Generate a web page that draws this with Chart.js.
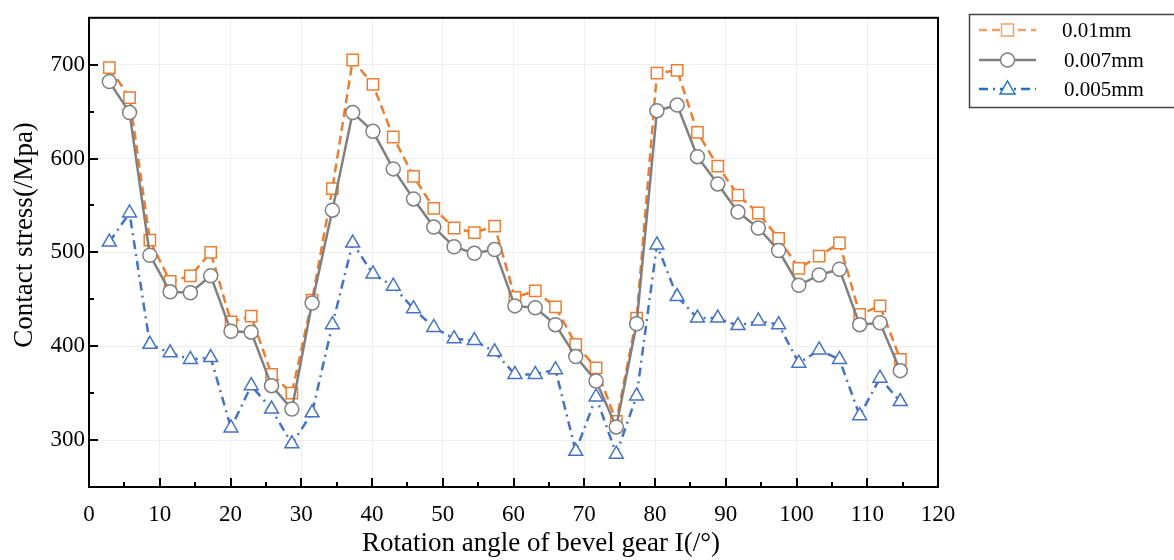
<!DOCTYPE html>
<html>
<head>
<meta charset="utf-8">
<script src="https://cdn.jsdelivr.net/npm/chart.js@4.4.0/dist/chart.umd.min.js"></script>
<style>
    html, body { margin: 0; padding: 0; background: #fff; }
    #caixa { width: 1174px; height: 560px; }
</style>
</head>
<body>
<div id="caixa"><canvas id="graficoTensao" width="1174" height="560"></canvas></div>
<script>

const angulos = [2.87, 5.73, 8.6, 11.47, 14.33, 17.2, 20.07, 22.93, 25.8, 28.67,
    31.53, 34.4, 37.27, 40.13, 43.0, 45.87, 48.73, 51.6, 54.47, 57.33,
    60.2, 63.07, 65.93, 68.8, 71.67, 74.53, 77.4, 80.27, 83.13, 86.0,
    88.87, 91.73, 94.6, 97.47, 100.33, 103.2, 106.07, 108.93, 111.8, 114.67];

const tensao001 = [697, 665, 513, 469, 475, 500, 426, 432, 370, 350,
    449, 568, 705, 679, 623, 581, 547, 526, 521, 528,
    452, 459, 442, 402, 377, 320, 430, 691, 694, 628,
    592, 561, 542, 515, 483, 496, 510, 434, 443, 386];

const tensao0007 = [682, 649, 497, 458, 457, 475, 416, 415, 358, 333,
    446, 545, 649, 629, 589, 557, 527, 506, 499, 503,
    443, 441, 423, 389, 363, 314, 424, 651, 657, 602,
    573, 543, 526, 502, 465, 476, 482, 423, 425, 374];

const tensao0005 = [511, 542, 402, 393, 386, 388, 313, 358, 333, 296,
    329, 423, 510, 477, 464, 440, 420, 408, 406, 394,
    370, 370, 375, 288, 346, 285, 347, 508, 453, 430,
    430, 422, 427, 423, 382, 396, 386, 326, 366, 341];

const rotulosSeries = ['0.01mm', '0.007mm', '0.005mm'];

const ticksX = [0, 10, 20, 30, 40, 50, 60, 70, 80, 90, 100, 110, 120];
const ticksXMenores = [5, 15, 25, 35, 45, 55, 65, 75, 85, 95, 105, 115];
const ticksY = [300, 400, 500, 600, 700];
const ticksYMenores = [350, 450, 550, 650];

const tituloX = 'Rotation angle of bevel gear I(/\u00B0)';
const tituloY = 'Contact stress(/Mpa)';

const corLaranja = '#ed7d31';
const corCinza = '#808080';
const corAzul = '#4472c4';
const fonteSerif = '"Liberation Serif", "Times New Roman", serif';

let graficoTensao;

document.addEventListener('DOMContentLoaded', function() {
    carregarGrafico();
});


function montarPontos(valores) {
    return valores.map((v, i) => ({ x: angulos[i], y: v }));
}


const pluginMoldura = {
    id: 'moldura',
    afterDatasetsDraw(chart) {
        const ctx = chart.ctx;
        const a = chart.chartArea;
        const sx = chart.scales.x;
        const sy = chart.scales.y;
        ctx.save();
        ctx.strokeStyle = '#000';
        ctx.lineWidth = 2;
        ctx.beginPath();
        ticksX.forEach(v => {
            const px = Math.round(sx.getPixelForValue(v));
            ctx.moveTo(px, a.bottom);
            ctx.lineTo(px, a.bottom - 9);
        });
        ticksXMenores.forEach(v => {
            const px = Math.round(sx.getPixelForValue(v));
            ctx.moveTo(px, a.bottom);
            ctx.lineTo(px, a.bottom - 5);
        });
        ticksY.forEach(v => {
            const py = Math.round(sy.getPixelForValue(v));
            ctx.moveTo(a.left, py);
            ctx.lineTo(a.left + 9, py);
        });
        ticksYMenores.forEach(v => {
            const py = Math.round(sy.getPixelForValue(v));
            ctx.moveTo(a.left, py);
            ctx.lineTo(a.left + 5, py);
        });
        ctx.stroke();
        ctx.strokeRect(a.left, a.top, a.right - a.left, a.bottom - a.top);
        ctx.restore();
    },
    afterDraw(chart) {
        const ctx = chart.ctx;
        ctx.save();
        ctx.fillStyle = '#000';
        ctx.font = '27px ' + fonteSerif;
        ctx.textAlign = 'center';
        ctx.textBaseline = 'middle';
        ctx.fillText(tituloX, 541, 544);

        ctx.translate(25, 235);
        ctx.rotate(-Math.PI / 2);
        ctx.fillText(tituloY, 0, 0);
        ctx.restore();

        desenharLegenda(ctx);
    }
};


function desenharLegenda(ctx) {
    ctx.save();
    ctx.strokeStyle = '#444';
    ctx.lineWidth = 1.5;
    ctx.strokeRect(969.5, 14.5, 220, 93);

    const itens = [
        { cor: '#f4a066', traco: [8, 5], marca: 'quadrado', y: 30 },
        { cor: corCinza, traco: [], marca: 'circulo', y: 60 },
        { cor: '#1f72c0', traco: [9, 5, 2, 5], marca: 'triangulo', y: 89 }
    ];
    itens.forEach((it, i) => {
        ctx.strokeStyle = it.cor;
        ctx.lineWidth = 2.5;
        ctx.setLineDash(it.traco);
        ctx.beginPath();
        ctx.moveTo(979, it.y);
        ctx.lineTo(1036, it.y);
        ctx.stroke();
        ctx.setLineDash([]);
        ctx.lineWidth = 1.5;
        ctx.fillStyle = '#fff';
        ctx.beginPath();
        if (it.marca === 'quadrado') {
            ctx.rect(1001.5, it.y - 6, 12, 12);
        } else if (it.marca === 'circulo') {
            ctx.arc(1007.5, it.y, 7, 0, Math.PI * 2);
        } else {
            ctx.moveTo(1007.5, it.y - 8);
            ctx.lineTo(1015, it.y + 5);
            ctx.lineTo(1000, it.y + 5);
            ctx.closePath();
        }
        ctx.fill();
        ctx.stroke();

        ctx.fillStyle = '#000';
        ctx.font = '21px ' + fonteSerif;
        ctx.textAlign = 'left';
        ctx.textBaseline = 'middle';
        ctx.fillText(rotulosSeries[i], i === 0 ? 1062 : 1064, it.y + 1);
    });
    ctx.restore();
}


function carregarGrafico() {
    const ctx = document.getElementById('graficoTensao').getContext('2d');

    if (graficoTensao) {
        graficoTensao.destroy();
    }

    graficoTensao = new Chart(ctx, {
        type: 'line',
        data: {
            datasets: [
                {
                    label: rotulosSeries[0],
                    data: montarPontos(tensao001),
                    borderColor: corLaranja,
                    backgroundColor: '#fff',
                    borderWidth: 2.5,
                    borderDash: [9, 5],
                    pointStyle: 'rect',
                    pointRadius: 8,
                    pointBorderWidth: 1.5,
                    pointBorderColor: corLaranja,
                    pointBackgroundColor: '#fff',
                    order: 1
                },
                {
                    label: rotulosSeries[1],
                    data: montarPontos(tensao0007),
                    borderColor: corCinza,
                    backgroundColor: '#fff',
                    borderWidth: 2.5,
                    pointStyle: 'circle',
                    pointRadius: 7,
                    pointBorderWidth: 1.5,
                    pointBorderColor: corCinza,
                    pointBackgroundColor: '#fff',
                    order: 0
                },
                {
                    label: rotulosSeries[2],
                    data: montarPontos(tensao0005),
                    borderColor: corAzul,
                    backgroundColor: '#fff',
                    borderWidth: 2.5,
                    borderDash: [9, 5, 2, 5],
                    pointStyle: 'triangle',
                    pointRadius: 8,
                    pointBorderWidth: 1.5,
                    pointBorderColor: corAzul,
                    pointBackgroundColor: '#fff',
                    order: 2
                }
            ]
        },
        options: {
            responsive: false,
            animation: false,
            devicePixelRatio: 1,
            layout: {
                padding: { top: 14, right: 236, left: 0, bottom: 0 }
            },
            plugins: {
                legend: { display: false },
                tooltip: { enabled: false }
            },
            scales: {
                x: {
                    type: 'linear',
                    min: 0,
                    max: 120,
                    afterBuildTicks: function(scale) {
                        scale.ticks = ticksX.map(v => ({ value: v }));
                    },
                    afterFit: function(scale) {
                        scale.height = 73;
                    },
                    grid: {
                        color: '#eeeeee',
                        lineWidth: 1,
                        drawTicks: false
                    },
                    border: { display: false },
                    ticks: {
                        padding: 14,
                        color: '#000',
                        maxRotation: 0,
                        font: { family: fonteSerif, size: 23 }
                    }
                },
                y: {
                    min: 250,
                    max: 750,
                    afterBuildTicks: function(scale) {
                        scale.ticks = ticksY.map(v => ({ value: v }));
                    },
                    afterFit: function(scale) {
                        scale.width = 89;
                    },
                    grid: {
                        color: '#eeeeee',
                        lineWidth: 1,
                        drawTicks: false
                    },
                    border: { display: false },
                    ticks: {
                        padding: 4,
                        color: '#000',
                        font: { family: fonteSerif, size: 23 }
                    }
                }
            }
        },
        plugins: [pluginMoldura]
    });
}

</script>
</body>
</html>
